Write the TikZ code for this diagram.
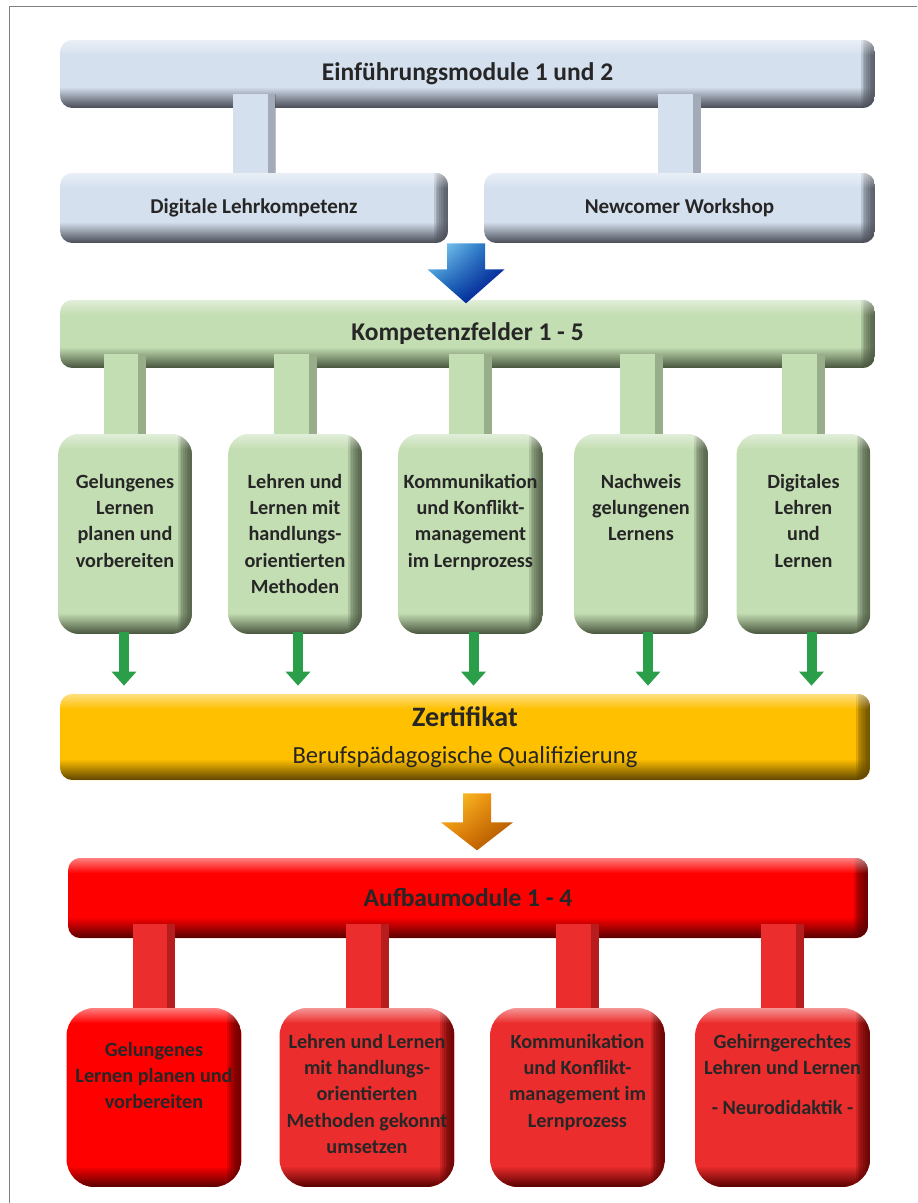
\documentclass[tikz,border=0pt]{standalone}
\usepackage{fontspec}
\setmainfont{Carlito}
\usetikzlibrary{arrows.meta,calc,fadings,shadings}

\definecolor{bluefill}{HTML}{D5E0EF}
\definecolor{bluedark}{HTML}{474B54}
\definecolor{greenfill}{HTML}{C4DEB3}
\definecolor{greendark}{HTML}{46533C}
\definecolor{arrowgreen}{HTML}{2A9E48}
\definecolor{zertfill}{HTML}{FFC000}
\definecolor{zertdark}{HTML}{5E4500}
\definecolor{redfill}{HTML}{FF0000}
\definecolor{redbox}{HTML}{EC2D2D}
\definecolor{reddark}{HTML}{560000}
\definecolor{textgray}{HTML}{262626}

\tikzfading[name=fadeD, top color=transparent!100, bottom color=transparent!0]
\tikzfading[name=fadeU, top color=transparent!0, bottom color=transparent!100]

% text set from the top of a box
\newcommand{\gtext}[2][2.68cm]{\parbox[c][4cm][t]{#1}{\centering\vspace*{0.8cm}#2}}
\newcommand{\rtext}[1]{\parbox[c][3.58cm][t]{3.5cm}{\centering\vspace*{0.52cm}#1}}

\begin{document}
\begin{tikzpicture}[x=0.02cm, y=-0.02cm,
  modbox/.style 2 args={rounded corners=7pt, inner sep=0pt, fill=#1, text=textgray,
    path picture={
      \foreach \k in {1,...,8}
        \fill[sharp corners, #2, fill opacity=0.2] ([xshift=-\k*0.035cm]path picture bounding box.north east) rectangle (path picture bounding box.south east);
      \fill[sharp corners, #2, path fading=fadeD] ([yshift=0.42cm]path picture bounding box.south west) rectangle (path picture bounding box.south east);
      \fill[sharp corners, white, fill opacity=0.5, path fading=fadeU] (path picture bounding box.north west) rectangle ([yshift=-0.3cm]path picture bounding box.north east);
    }},
  bigfont/.style={font=\fontsize{14.5}{17}\selectfont\bfseries},
  midfont/.style={font=\fontsize{12}{14}\selectfont\bfseries},
  boxfont/.style={font=\fontsize{11.5}{15}\selectfont\bfseries},
  stem/.style 2 args={line width=0.86cm, draw=#1,
    postaction={draw=#2, line width=0.16cm, draw opacity=0.35, transform canvas={xshift=0.35cm}}},
  garrow/.style={draw=arrowgreen, line width=0.2cm, -{Triangle[width=0.48cm,length=0.28cm]}, shorten >=0.16cm}
]
\useasboundingbox (0,0) rectangle (917,1203);
\draw[gray] (9,1203) -- (9,6) -- (917,6);

% Einfuehrung
\node[modbox={bluefill}{bluedark}, bigfont, minimum width=16.3cm, minimum height=1.36cm] (intro) at (467.5,74) {Einführungsmodule 1 und 2};
\node[modbox={bluefill}{bluedark}, midfont, minimum width=7.76cm, minimum height=1.4cm] (dlk) at (254,208) {Digitale Lehrkompetenz};
\node[modbox={bluefill}{bluedark}, midfont, minimum width=7.82cm, minimum height=1.4cm] (ncw) at (679.5,208) {Newcomer Workshop};

% Kompetenzfelder
\node[modbox={greenfill}{greendark}, bigfont, minimum width=16.3cm, minimum height=1.36cm] (kf) at (467.5,334) {Kompetenzfelder 1 - 5};
\node[modbox={greenfill}{greendark}, boxfont, rounded corners=12pt] (gb1) at (125,534) {\gtext{Gelungenes\\ Lernen\\ planen und\\ vorbereiten}};
\node[modbox={greenfill}{greendark}, boxfont, rounded corners=12pt] (gb2) at (295,534) {\gtext{Lehren und\\ Lernen mit\\ handlungs-\\ orientierten\\ Methoden}};
\node[modbox={greenfill}{greendark}, boxfont, rounded corners=12pt] (gb3) at (470.5,534) {\gtext[2.9cm]{Kommunikation\\ und Konflikt-\\ management\\ im Lernprozess}};
\node[modbox={greenfill}{greendark}, boxfont, rounded corners=12pt] (gb4) at (641,534) {\gtext{Nachweis\\ gelungenen\\ Lernens}};
\node[modbox={greenfill}{greendark}, boxfont, rounded corners=12pt] (gb5) at (803.5,534) {\gtext{Digitales\\ Lehren\\ und\\ Lernen}};

% Zertifikat
\node[modbox={zertfill}{zertdark}, align=center, minimum width=16.2cm, minimum height=1.72cm] (zert) at (465,737)
  {{\fontsize{16}{19}\selectfont\bfseries Zertifikat}\\[9pt]{\fontsize{14}{17}\selectfont Berufspädagogische Qualifizierung}};

% Aufbaumodule
\node[modbox={redfill}{reddark}, bigfont, text=black!85, minimum width=16cm, minimum height=1.6cm] (auf) at (468,898) {Aufbaumodule 1 - 4};
\node[modbox={redfill}{reddark}, boxfont, rounded corners=16pt] (rb1) at (154,1097.5) {\rtext{\vspace*{0.16cm}Gelungenes\\ Lernen planen und\\ vorbereiten}};
\node[modbox={redbox}{reddark}, boxfont, rounded corners=16pt] (rb2) at (367,1097.5) {\rtext{Lehren und Lernen\\ mit handlungs-\\ orientierten\\ Methoden gekonnt\\ umsetzen}};
\node[modbox={redbox}{reddark}, boxfont, rounded corners=16pt] (rb3) at (577.5,1097.5) {\rtext{Kommunikation\\ und Konflikt-\\ management im\\ Lernprozess}};
\node[modbox={redbox}{reddark}, boxfont, rounded corners=16pt] (rb4) at (782.5,1097.5) {\rtext{Gehirngerechtes\\ Lehren und Lernen\\[8pt] - Neurodidaktik -}};

% stems
\foreach \b in {dlk,ncw}
  \draw[stem={bluefill}{bluedark}] ($(intro.south -| \b.north)+(0,-14)$) -- (\b.north);
\foreach \b in {gb1,gb2,gb3,gb4,gb5}
  \draw[stem={greenfill}{greendark}] ($(kf.south -| \b.north)+(0,-14)$) -- (\b.north);
\foreach \b in {rb1,rb2,rb3,rb4}
  \draw[stem={redbox}{reddark}] ($(auf.south -| \b.north)+(0,-14)$) -- (\b.north);

% arrows
\foreach \b/\dx in {gb1/-1,gb2/3,gb3/3,gb4/7,gb5/8}
  \draw[garrow] ($(\b.south)+(\dx,-2)$) -- ($(\b.south |- zert.north)+(\dx,0)$);

\coordinate (bluetop) at ($(dlk.south east)!0.5!(ncw.south west)$);
\begin{scope}[shift={(bluetop)}]
  \shade[upper left=blue!25!cyan!40!white, upper right=blue!55!cyan!70!black, lower left=blue!50!cyan!70!black, lower right=blue!50!black]
    (-19,0) -- (19,0) -- (19,26) -- (38.5,26) -- (0,60) -- (-38.5,26) -- (-19,26) -- cycle;
\end{scope}

\coordinate (orangetop) at ($(zert.south)+(12,13)$);
\begin{scope}[shift={(orangetop)}]
  \shade[upper left=orange!40!yellow!80!white, upper right=orange!90!black, lower left=orange!90!black, lower right=orange!60!black]
    (-14,0) -- (14,0) -- (14,29) -- (36,29) -- (0,57) -- (-36,29) -- (-14,29) -- cycle;
\end{scope}
\end{tikzpicture}
\end{document}
